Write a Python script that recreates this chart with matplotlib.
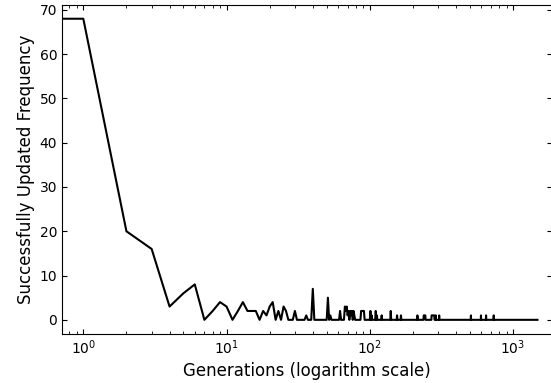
import matplotlib
matplotlib.use("Agg")
import matplotlib.pyplot as plt

# generation number and how many updates succeeded at that generation
gens = [0.7, 1, 2, 3, 4, 5, 6, 7, 8, 9, 10, 11, 12, 13, 14, 15, 16, 17, 18, 19,
        20, 21, 22, 23, 24, 25, 26, 27, 29, 30, 31, 35, 36, 37, 39, 40, 41,
        50, 51, 52, 53, 54, 61, 62, 63, 66, 67, 68, 69, 70, 71, 72, 73, 74,
        75, 76, 77, 78, 79, 86, 87, 88, 89, 90, 91, 92, 100, 101, 102, 103,
        104, 109, 110, 111, 112, 113, 120, 121, 122, 139, 140, 141, 154, 155,
        156, 164, 165, 166, 214, 215, 216, 237, 238, 244, 245, 269, 270, 282,
        283, 288, 289, 290, 304, 305, 306, 507, 508, 509, 596, 597, 598, 647,
        648, 649, 732, 733, 734, 1480]
freq = [68, 68, 20, 16, 3, 6, 8, 0, 2, 4, 3, 0, 2, 4, 2, 2, 2, 0, 2, 1,
        3, 4, 0, 2, 0, 3, 2, 0, 0, 2, 0, 0, 1, 0, 0, 7, 0,
        0, 5, 0, 1, 0, 0, 2, 0, 0, 3, 2, 3, 1, 2, 0, 2, 1,
        2, 0, 2, 1, 0, 0, 2, 2, 2, 2, 2, 0, 0, 2, 0, 1,
        0, 0, 2, 0, 1, 0, 0, 1, 0, 0, 2, 0, 0, 1,
        0, 0, 1, 0, 0, 1, 0, 0, 1, 1, 0, 0, 1, 1,
        0, 0, 1, 0, 0, 1, 0, 0, 1, 0, 0, 1, 0, 0,
        1, 0, 0, 1, 0, 0]

fig = plt.figure(figsize=(5.51, 3.83), dpi=100)
ax = fig.add_axes([62/551, 49/383, 490/551, 329/383])

ax.plot(gens, freq, color="black", linewidth=1.5)
ax.set_xscale("log")
ax.set_xlim(0.71, 1870)
ax.set_ylim(-3.2, 71.1)
ax.set_yticks([0, 10, 20, 30, 40, 50, 60, 70])

ax.tick_params(which="both", direction="in", top=True, right=True, labelsize=10)
ax.set_xlabel("Generations (logarithm scale)", fontsize=12, labelpad=3)
ax.set_ylabel("Successfully Updated Frequency", fontsize=12, labelpad=3)

fig.savefig("out.png", dpi=100)
